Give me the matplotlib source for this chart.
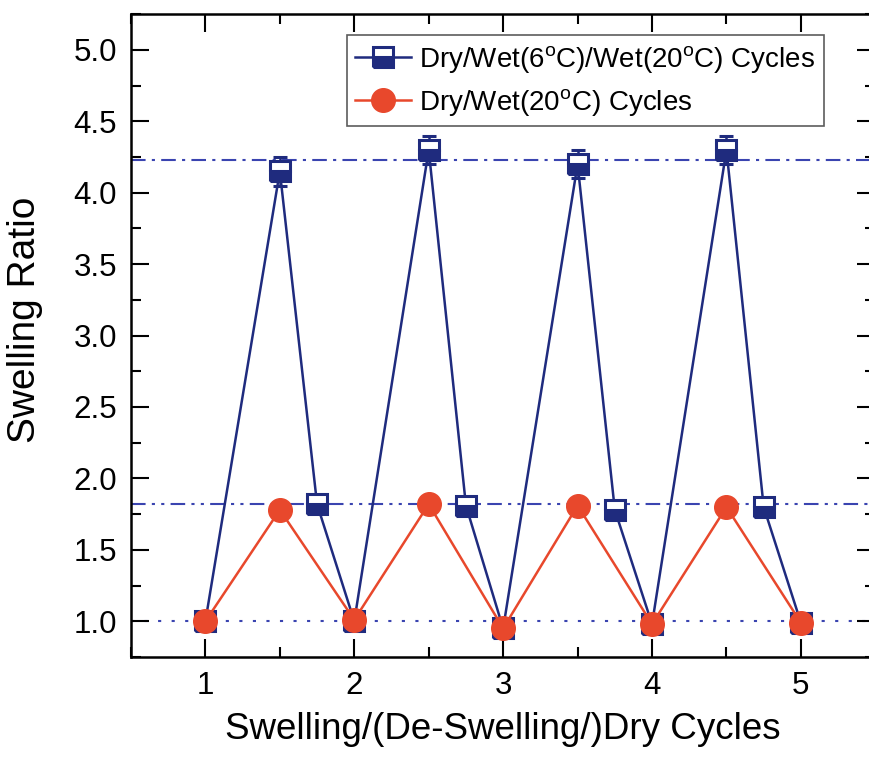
import matplotlib
matplotlib.use("Agg")
import matplotlib.pyplot as plt
from matplotlib.lines import Line2D
from matplotlib.ticker import MultipleLocator

plt.rcParams["font.family"] = ["Liberation Sans", "DejaVu Sans"]
plt.rcParams["mathtext.fontset"] = "custom"
plt.rcParams["mathtext.rm"] = "Liberation Sans"
plt.rcParams["mathtext.it"] = "Liberation Sans"

# three-step cycles: dry / wet 6C / wet 20C
x_three = [1, 1.5, 1.75, 2, 2.5, 2.75, 3, 3.5, 3.75, 4, 4.5, 4.75, 5]
y_three = [1.0, 4.15, 1.82, 1.0, 4.30, 1.81, 0.95, 4.20, 1.78, 0.98, 4.30, 1.80, 0.99]
err_three = [0.02, 0.10, 0.06, 0.02, 0.10, 0.06, 0.02, 0.10, 0.06, 0.02, 0.10, 0.06, 0.02]

# two-step cycles: dry / wet 20C
x_two = [1, 1.5, 2, 2.5, 3, 3.5, 4, 4.5, 5]
y_two = [1.0, 1.78, 1.01, 1.82, 0.95, 1.81, 0.98, 1.80, 0.99]

ref_levels = [4.23, 1.82, 1.0]

BLUE = "#1f2b7e"
RED = "#e8482c"
GUIDE = "#3a44b0"

label_three = r"Dry/Wet(6$^{o}$C)/Wet(20$^{o}$C) Cycles"
label_two = r"Dry/Wet(20$^{o}$C) Cycles"

sq_style = dict(marker="s", ms=15, fillstyle="bottom", markerfacecolor=BLUE,
                markerfacecoloralt="white", markeredgecolor=BLUE, mew=2.2)
dot_style = dict(marker="o", ms=17, markerfacecolor=RED, markeredgecolor=RED)

fig = plt.figure(figsize=(8.69, 7.59), dpi=100)
ax = fig.add_axes([0.1507, 0.1344, 0.8566, 0.847])

ax.axhline(ref_levels[0], color=GUIDE, lw=1.5, ls=(0, (7, 3, 1.5, 3)), zorder=1)
ax.axhline(ref_levels[1], color=GUIDE, lw=1.5, ls=(0, (7, 3, 1.5, 3, 1.5, 3)), zorder=1)
ax.axhline(ref_levels[2], color=GUIDE, lw=1.5, ls=(0, (1.5, 5)), zorder=1)

ax.errorbar(x_three, y_three, yerr=err_three, color=BLUE, lw=1.8,
            ecolor=BLUE, elinewidth=1.8, capsize=5, capthick=2,
            zorder=3, **sq_style)
ax.plot(x_two, y_two, color=RED, lw=1.8, zorder=4, **dot_style)

ax.set_xlim(0.5, 5.5)
ax.set_ylim(0.75, 5.25)
ax.xaxis.set_major_locator(MultipleLocator(1))
ax.xaxis.set_minor_locator(MultipleLocator(0.5))
ax.yaxis.set_major_locator(MultipleLocator(0.5))
ax.yaxis.set_minor_locator(MultipleLocator(0.25))
ax.tick_params(which="both", direction="in", top=True, right=True,
               width=1.5, labelsize=22.5, pad=10)
ax.tick_params(which="major", length=13)
ax.tick_params(which="minor", length=7)
for s in ax.spines.values():
    s.set_linewidth(1.8)

ax.set_xlabel("Swelling/(De-Swelling/)Dry Cycles", fontsize=26.5, labelpad=8)
ax.set_ylabel("Swelling Ratio", fontsize=28)
ax.yaxis.set_label_coords(-0.118, 0.524)

# legend entries without the error-bar caps
handles = [
    Line2D([], [], color=BLUE, lw=1.8, **sq_style),
    Line2D([], [], color=RED, lw=1.8, **dot_style),
]
leg = ax.legend(handles, [label_three, label_two], loc="upper left",
                bbox_to_anchor=(0.29, 0.967), borderaxespad=0, fontsize=20,
                frameon=True, fancybox=False, edgecolor="#333333",
                handlelength=2.0, handletextpad=0.3, borderpad=0.3,
                labelspacing=0.45)
leg.get_frame().set_linewidth(1.2)

fig.savefig("out.png", dpi=100)
